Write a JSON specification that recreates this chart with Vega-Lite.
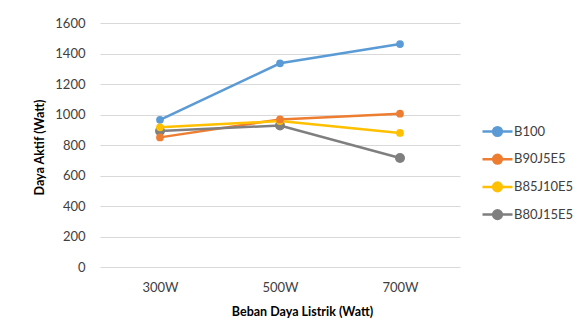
{
  "$schema": "https://vega.github.io/schema/vega-lite/v6.json",
  "width": 360,
  "height": 244,
  "autosize": "none",
  "padding": {"left": 100, "top": 23, "right": 127, "bottom": 67},
  "background": "white",
  "config": {
    "font": "Lato",
    "view": {"stroke": null},
    "axis": {"labelFont": "Lato", "titleFont": "Lato", "labelColor": "#404040", "titleColor": "#000000"}
  },
  "data": {
    "values": [
      {"load": "300W", "series": "B100", "value": 965},
      {"load": "500W", "series": "B100", "value": 1336},
      {"load": "700W", "series": "B100", "value": 1462},
      {"load": "300W", "series": "B90J5E5", "value": 850},
      {"load": "500W", "series": "B90J5E5", "value": 968},
      {"load": "700W", "series": "B90J5E5", "value": 1005},
      {"load": "300W", "series": "B85J10E5", "value": 916},
      {"load": "500W", "series": "B85J10E5", "value": 957},
      {"load": "700W", "series": "B85J10E5", "value": 879},
      {"load": "300W", "series": "B80J15E5", "value": 892},
      {"load": "500W", "series": "B80J15E5", "value": 928},
      {"load": "700W", "series": "B80J15E5", "value": 715}
    ]
  },
  "encoding": {
    "x": {
      "field": "load", "type": "ordinal",
      "scale": {"type": "point", "padding": 0.5},
      "axis": {"title": "Beban Daya Listrik (Watt)", "labelAngle": 0, "domain": false, "ticks": false, "labelPadding": 14, "labelFontSize": 13, "titleFontSize": 12.5, "titleFontWeight": "bold", "titleX": 202, "titleY": 44, "titleBaseline": "middle", "titleAlign": "center", "titleAnchor": null}
    },
    "y": {
      "field": "value", "type": "quantitative",
      "scale": {"domain": [0, 1600], "nice": false},
      "axis": {"title": "Daya Aktif (Watt)", "values": [0,200,400,600,800,1000,1200,1400,1600], "format": "d", "domain": false, "ticks": false, "labelPadding": 15, "labelFontSize": 13, "titleFontSize": 12.5, "titleFontWeight": "bold", "titleX": -61, "titleY": 124, "titleBaseline": "middle", "titleAlign": "center", "titleAnchor": null, "gridColor": "#d9d9d9", "gridWidth": 1}
    },
    "color": {
      "field": "series", "type": "nominal",
      "sort": ["B100", "B90J5E5", "B85J10E5", "B80J15E5"],
      "scale": {"domain": ["B100", "B90J5E5", "B85J10E5", "B80J15E5"], "range": ["#5B9BD5", "#ED7D31", "#FFC000", "#7F7F7F"]},
      "legend": {
        "title": null, "orient": "none", "legendX": 381, "legendY": 92,
        "symbolType": "M-1,0L1,0M-0.29,0A0.29,0.29,0,1,1,0.29,0A0.29,0.29,0,1,1,-0.29,0Z",
        "symbolSize": 900, "symbolStrokeWidth": 2.5, "symbolFillColor": null,
        "labelFontSize": 13, "labelColor": "#404040", "labelOffset": 0, "rowPadding": 1.7
      }
    },
    "order": {"field": "series"}
  },
  "layer": [
    {"mark": {"type": "line", "strokeWidth": 2.5}, "encoding": {"detail": {"field": "series"}}},
    {"mark": {"type": "circle", "opacity": 1}, "encoding": {"size": {"condition": {"test": "datum.series === 'B80J15E5'", "value": 100}, "value": 60}}}
  ]
}
